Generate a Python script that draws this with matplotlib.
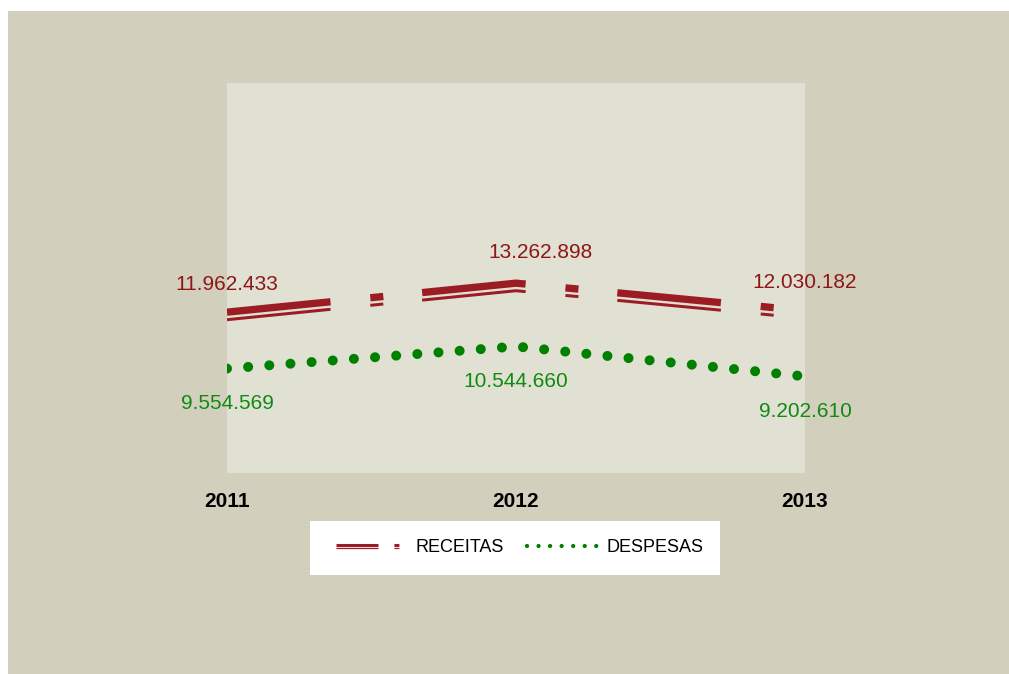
import matplotlib.pyplot as plt
from matplotlib import patheffects as pe
from matplotlib.lines import Line2D
from matplotlib.patches import Rectangle

plt.rcParams['font.family'] = ['Liberation Sans', 'DejaVu Sans']
plt.rcParams['lines.scale_dashes'] = False

anos = ['2011', '2012', '2013']
receitas = [11962433, 13262898, 12030182]
despesas = [9554569, 10544660, 9202610]

cor_fundo = '#D2D0BC'
cor_area = '#E0E0D3'
cor_rec = '#9C1C24'
cor_rec_txt = '#8E1616'
cor_desp = '#008000'
cor_desp_txt = '#118A11'

def fmt(v):
	return f'{v:,}'.replace(',', '.')

fig = plt.figure(figsize=(10.09, 6.74), dpi=100, facecolor='white')
# outer beige panel
fig.patches.append(Rectangle((8/1009, 0), 1 - 8/1009, 1 - 11/674, transform=fig.transFigure,
	facecolor=cor_fundo, edgecolor='none', zorder=-2))
# legend box
fig.patches.append(Rectangle((310/1009, 1 - 575/674), 410/1009, 54/674, transform=fig.transFigure,
	facecolor='white', edgecolor='none', zorder=-1))

ax = fig.add_axes([227/1009, 1 - 473/674, 578/1009, 390/674])
ax.set_facecolor(cor_area)
for s in ax.spines.values():
	s.set_visible(False)

x = list(range(len(anos)))

# double line (thick + thin) with long dash / short dash
duplo = [pe.Stroke(offset=(0, 1.94), linewidth=5.26), pe.Stroke(offset=(0, -3.5), linewidth=2.16)]
ax.plot(x, receitas, color=cor_rec, linewidth=1, linestyle=(0, (74.9, 28.8, 9.4, 28.1)),
	dash_capstyle='butt', path_effects=duplo, solid_capstyle='butt')
ax.plot(x, despesas, color=cor_desp, linewidth=7.2, linestyle=(0, (0.01, 15.26)),
	dash_capstyle='round')

for i in x:
	dx = 18 if i == 1 else 0
	dy = 24 if i == 1 else 22
	ax.annotate(fmt(receitas[i]), (x[i], receitas[i]), xytext=(dx, dy), textcoords='offset points',
		ha='center', va='center', fontsize=15, color=cor_rec_txt, annotation_clip=False)
	ax.annotate(fmt(despesas[i]), (x[i], despesas[i]), xytext=(0, -25), textcoords='offset points',
		ha='center', va='center', fontsize=15, color=cor_desp_txt, annotation_clip=False)

ax.set_xlim(0, 2)
ax.set_ylim(4.87e6, 22.36e6)
ax.set_yticks([])
ax.set_xticks(x, anos, fontsize=15, fontweight='bold')
ax.tick_params(axis='x', length=0, pad=13.5)

# legend proxies (smaller pattern as in the original)
leg_duplo = [pe.Stroke(offset=(0, 0.8), linewidth=2.2), pe.Stroke(offset=(0, -1.44), linewidth=0.9)]
h_rec = Line2D([], [], color=cor_rec, linewidth=1, linestyle=(0, (30.2, 11.5, 3.6, 100)),
	dash_capstyle='butt', path_effects=leg_duplo)
h_desp = Line2D([], [], color=cor_desp, linewidth=3.1, linestyle=(0, (0.01, 8.3)), dash_capstyle='round')
leg = fig.legend([h_rec, h_desp], ['RECEITAS', 'DESPESAS'], loc='center', ncol=2,
	bbox_to_anchor=(520/1009, 1 - 548/674), frameon=False, fontsize=13,
	handlelength=3.9, handletextpad=0.5, columnspacing=1.3)

fig.savefig('out.png', dpi=100, facecolor=fig.get_facecolor())
